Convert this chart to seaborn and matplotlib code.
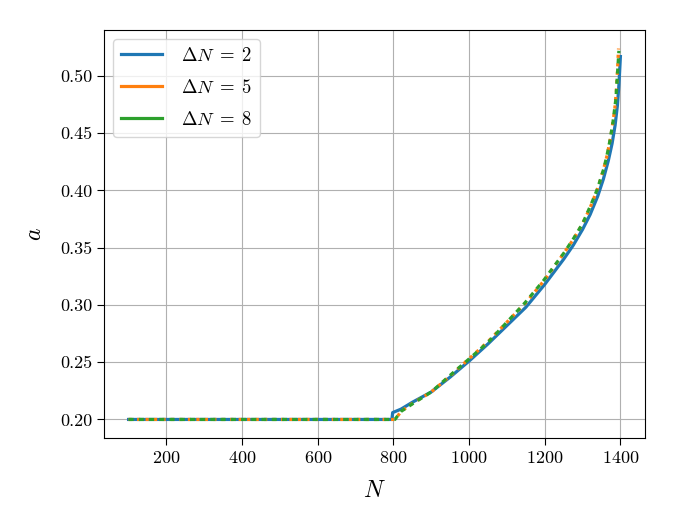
import matplotlib
matplotlib.use("Agg")
import matplotlib.pyplot as plt
from matplotlib.lines import Line2D
import seaborn as sns
import pandas as pd

# ---- data ----
n_dn2 = [100, 796, 798, 820, 850, 900, 950, 1000, 1050, 1100, 1150, 1200, 1250,
         1275, 1300, 1320, 1340, 1355, 1368, 1378, 1386, 1392, 1396, 1400]
a_dn2 = [0.200, 0.200, 0.206, 0.209, 0.215, 0.224, 0.237, 0.251, 0.266, 0.282,
         0.298, 0.318, 0.340, 0.352, 0.366, 0.379, 0.395, 0.410, 0.426, 0.441,
         0.457, 0.474, 0.492, 0.517]

n_dn5 = [100, 805, 820, 850, 900, 950, 1000, 1050, 1100, 1150, 1200, 1250, 1275,
         1300, 1320, 1340, 1355, 1365, 1375, 1385, 1390, 1395]
a_dn5 = [0.200, 0.200, 0.207, 0.214, 0.224, 0.238, 0.253, 0.268, 0.285, 0.302,
         0.322, 0.345, 0.357, 0.371, 0.385, 0.402, 0.418, 0.431, 0.448, 0.471,
         0.490, 0.524]

n_dn8 = [100, 804, 820, 852, 900, 948, 1004, 1052, 1100, 1148, 1196, 1252, 1276,
         1300, 1324, 1340, 1356, 1364, 1372, 1380, 1388, 1396]
a_dn8 = [0.200, 0.200, 0.207, 0.214, 0.224, 0.238, 0.254, 0.268, 0.285, 0.302,
         0.321, 0.346, 0.358, 0.371, 0.389, 0.402, 0.419, 0.430, 0.443, 0.459,
         0.480, 0.522]

labels = [r"$\Delta N\;=\;2$", r"$\Delta N\;=\;5$", r"$\Delta N\;=\;8$"]
colors = ["#1f77b4", "#ff7f0e", "#2ca02c"]

plt.rcParams["font.family"] = ["serif"]
plt.rcParams["font.serif"] = ["cmr10", "DejaVu Serif"]
plt.rcParams["mathtext.fontset"] = "cm"
plt.rcParams["axes.unicode_minus"] = False
plt.rcParams["axes.formatter.use_mathtext"] = True

fig = plt.figure(figsize=(6.75, 5.25), dpi=100)
ax = fig.add_axes([104 / 675, 1 - 438 / 525, (645 - 104) / 675, (438 - 30) / 525])

df2 = pd.DataFrame({"N": n_dn2, "a": a_dn2})
df5 = pd.DataFrame({"N": n_dn5, "a": a_dn5})
df8 = pd.DataFrame({"N": n_dn8, "a": a_dn8})

sns.lineplot(data=df2, x="N", y="a", ax=ax, color=colors[0], lw=2.3,
             linestyle="-", sort=False, legend=False)
sns.lineplot(data=df5, x="N", y="a", ax=ax, color=colors[1], lw=2.3,
             linestyle=":", sort=False, legend=False)
sns.lineplot(data=df8, x="N", y="a", ax=ax, color=colors[2], lw=2.3,
             linestyle=(0, (1.6, 1.6)), sort=False, legend=False)

ax.grid(True, color="#b0b0b0", lw=0.8)
ax.set_axisbelow(True)
ax.set_xticks([200, 400, 600, 800, 1000, 1200, 1400])
ax.set_yticks([0.20, 0.25, 0.30, 0.35, 0.40, 0.45, 0.50])
ax.set_yticklabels([f"{v:.2f}" for v in [0.20, 0.25, 0.30, 0.35, 0.40, 0.45, 0.50]])
ax.tick_params(labelsize=13, length=5)
ax.set_xlabel(r"$N$", fontsize=17, labelpad=10)
ax.set_ylabel(r"$a$", fontsize=17, labelpad=10)

handles = [Line2D([0], [0], color=c, lw=2.3) for c in colors]
ax.legend(handles, labels, loc="upper left", fontsize=13.5, labelspacing=0.75,
          handlelength=2.2, handletextpad=1.0)

fig.savefig("out.png", dpi=100)
